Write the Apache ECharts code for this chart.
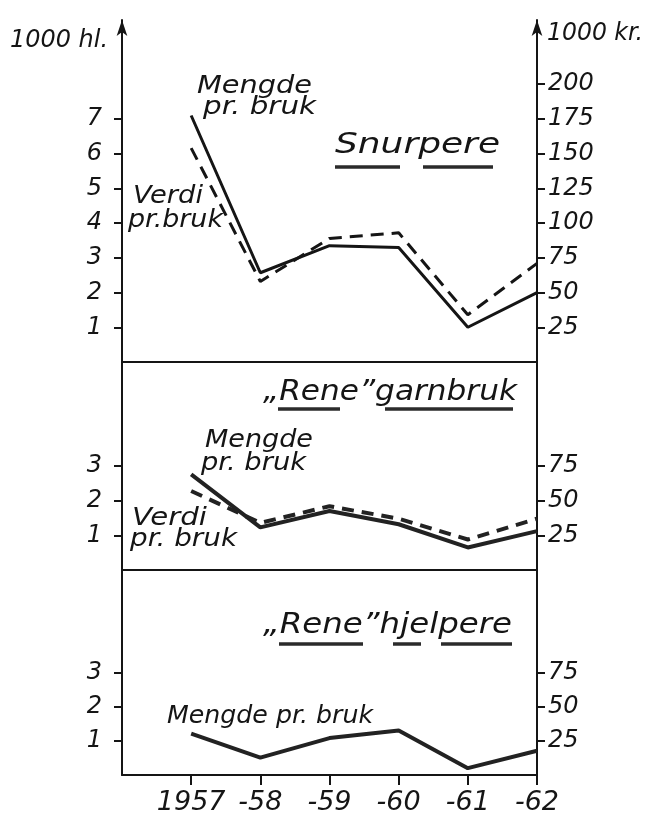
<!DOCTYPE html>
<html>
<head>
<meta charset="utf-8">
<script src="https://cdn.jsdelivr.net/npm/echarts@6/dist/echarts.min.js"></script>
<style>
  html, body { margin: 0; padding: 0; background: #fff; }
  #chart { width: 655px; height: 816px; }
</style>
</head>
<body>
<div id="chart"></div>
<script>
// data
var years = [1957, 1958, 1959, 1960, 1961, 1962];
var yearLabels = ['1957', '-58', '-59', '-60', '-61', '-62'];

// Snurpere: 1000 hl. (left) and 1000 kr. (right)
var snurpMengde = [7.1, 2.57, 3.35, 3.3, 1.0, 2.0];
var snurpVerdi = [154, 58, 89, 93, 34, 71];

// "Rene" garnbruk
var garnMengde = [2.76, 1.23, 1.7, 1.32, 0.65, 1.12];
var garnVerdi = [57, 34, 46, 37, 22, 37];

// "Rene" hjelpere
var hjelpMengde = [1.21, 0.51, 1.08, 1.3, 0.2, 0.71];

// tick labels
var leftTicksTop = [1, 2, 3, 4, 5, 6, 7];
var rightTicksTop = [25, 50, 75, 100, 125, 150, 175, 200];
var leftTicksLow = [1, 2, 3];
var rightTicksLow = [25, 50, 75];

var ink = '#151515';
var font = 'DejaVu Sans';

function pairs(vals) {
    return years.map(function (y, i) { return [y, vals[i]]; });
}

// hand lettering is wide and flat, so stretch texts to the width they have in the drawing
var ctx = document.createElement('canvas').getContext('2d');
function measure(text, size) {
    ctx.font = 'italic ' + size + 'px "' + font + '"';
    return ctx.measureText(text).width;
}
function txt(text, x, y, width, size) {
    return {
        type: 'text', x: x, y: y, z: 10,
        scaleX: width / measure(text, size),
        style: {
            text: text, fontSize: size, fontFamily: font, fontStyle: 'italic',
            fill: ink, textAlign: 'left', textVerticalAlign: 'middle',
            align: 'left', verticalAlign: 'middle'
        }
    };
}
function underline(x1, x2, y) {
    return {
        type: 'line', z: 10,
        shape: { x1: x1, y1: y, x2: x2, y2: y },
        style: { stroke: '#2b2b2b', lineWidth: 3.5 }
    };
}

var myChart = echarts.init(document.getElementById('chart'));

var axisLabelStyle = { fontFamily: font, fontStyle: 'italic', fontSize: 24, color: ink };
var lineStyle = { color: ink, width: 2 };

function xAxis(idx, last) {
    return {
        type: 'value', gridIndex: idx, min: 1956, max: 1962,
        axisLine: { show: true, lineStyle: lineStyle },
        axisTick: last ? { show: true, length: 10, lineStyle: lineStyle, customValues: years } : { show: false },
        axisLabel: last ? {
            show: true, margin: 14, fontFamily: font, fontStyle: 'italic', fontSize: 27, color: ink,
            customValues: years,
            formatter: function (v) { return yearLabels[years.indexOf(v)]; }
        } : { show: false },
        splitLine: { show: false }
    };
}

function yAxis(idx, pos, max, ticks, arrow) {
    return {
        type: 'value', gridIndex: idx, position: pos, min: 0, max: max,
        axisLine: {
            show: true, onZero: false, lineStyle: lineStyle,
            symbol: arrow ? ['none', 'arrow'] : ['none', 'none'],
            symbolSize: [8, 16]
        },
        axisTick: { show: true, length: 8, lineStyle: lineStyle, customValues: ticks },
        axisLabel: Object.assign({ customValues: ticks, margin: pos === 'left' ? 20 : 11 }, axisLabelStyle),
        splitLine: { show: false }
    };
}

var topMax = 9.85;

var option = {
    backgroundColor: '#fff',
    animation: false,
    grid: [
        { left: 122, right: 118, top: 20, height: 342 },
        { left: 122, right: 118, top: 362, height: 208 },
        { left: 122, right: 118, top: 570, height: 208 }
    ],
    xAxis: [xAxis(0, false), xAxis(1, false), xAxis(2, true)],
    yAxis: [
        yAxis(0, 'left', topMax, leftTicksTop, true),
        yAxis(0, 'right', topMax * 25, rightTicksTop, true),
        yAxis(1, 'left', 6, leftTicksLow, false),
        yAxis(1, 'right', 150, rightTicksLow, false),
        yAxis(2, 'left', 6, leftTicksLow, false),
        yAxis(2, 'right', 150, rightTicksLow, false)
    ],
    series: [
        {
            name: 'Mengde pr. bruk', type: 'line', xAxisIndex: 0, yAxisIndex: 0,
            data: pairs(snurpMengde), symbol: 'none',
            lineStyle: { color: ink, width: 3 }
        },
        {
            name: 'Verdi pr. bruk', type: 'line', xAxisIndex: 0, yAxisIndex: 1,
            data: pairs(snurpVerdi), symbol: 'none',
            lineStyle: { color: ink, width: 3, type: [13, 8] }
        },
        {
            name: 'Mengde pr. bruk', type: 'line', xAxisIndex: 1, yAxisIndex: 2,
            data: pairs(garnMengde), symbol: 'none',
            lineStyle: { color: '#222', width: 4 }
        },
        {
            name: 'Verdi pr. bruk', type: 'line', xAxisIndex: 1, yAxisIndex: 3,
            data: pairs(garnVerdi), symbol: 'none',
            lineStyle: { color: '#222', width: 4, type: [12, 8] }
        },
        {
            name: 'Mengde pr. bruk', type: 'line', xAxisIndex: 2, yAxisIndex: 4,
            data: pairs(hjelpMengde), symbol: 'none',
            lineStyle: { color: '#222', width: 4 }
        }
    ],
    graphic: [
        // axis units
        txt('1000 hl.', 10, 41, 98, 24),
        txt('1000 kr.', 547, 34, 96, 24),

        // Snurpere
        txt('Snurpere', 335, 146, 165, 28),
        underline(335, 400, 167),
        underline(423, 493, 167),
        txt('Mengde', 197, 87, 115, 24),
        txt('pr. bruk', 203, 108, 113, 24),
        txt('Verdi', 133, 197, 70, 24),
        txt('pr.bruk', 128, 221, 95, 24),

        // "Rene" garnbruk
        txt('\u201eRene\u201dgarnbruk', 263, 393, 254, 28),
        underline(278, 340, 409),
        underline(385, 513, 409),
        txt('Mengde', 205, 441, 108, 24),
        txt('pr. bruk', 201, 464, 105, 24),
        txt('Verdi', 132, 519, 75, 24),
        txt('pr. bruk', 130, 540, 107, 24),

        // "Rene" hjelpere
        txt('\u201eRene\u201dhjelpere', 263, 626, 249, 28),
        underline(279, 363, 644),
        underline(393, 421, 644),
        underline(441, 512, 644),
        txt('Mengde pr. bruk', 167, 717, 206, 24)
    ]
};

myChart.setOption(option);
</script>
</body>
</html>
